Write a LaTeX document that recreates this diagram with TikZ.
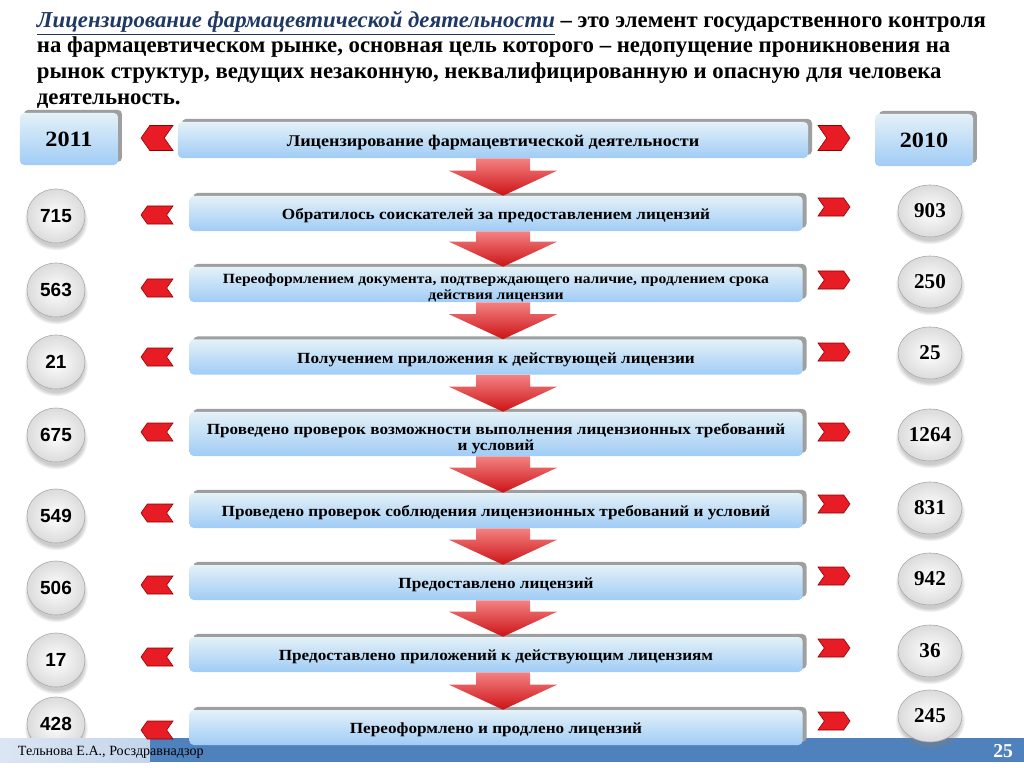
\documentclass[tikz,border=0pt]{standalone}
\usepackage{fontspec}
\setmainfont{Liberation Serif}
\newfontfamily\numsans{Liberation Sans}
\newfontfamily\boxfont[FakeStretch=1.11]{Liberation Serif}
\usepackage{tikz}
\usetikzlibrary{shapes.geometric,shapes.symbols,shadows,calc}

\definecolor{boxtop}{RGB}{228,241,247}
\definecolor{boxbot}{RGB}{160,204,246}
\definecolor{barblue}{RGB}{79,129,189}
\definecolor{barlight}{RGB}{196,213,235}
\definecolor{titleblue}{RGB}{31,56,100}
\definecolor{markred}{RGB}{232,28,36}
\definecolor{arrowtop}{RGB}{243,130,130}
\definecolor{arrowbot}{RGB}{205,18,22}

\begin{document}
\begin{tikzpicture}[x=0.025cm, y=-0.025cm,
    rowbox/.style={rectangle, rounded corners=3pt, top color=boxtop, bottom color=boxbot,
      general shadow={fill=gray!75, shadow xshift=2.8pt, shadow yshift=2.2pt},
      minimum width=15.325cm, minimum height=0.875cm, inner sep=1pt, align=center,
      text height=8.6pt, text depth=0pt,
      font=\boxfont\bfseries\fontsize{11}{11.4}\selectfont},
    tworow/.style={text height={}, text depth={}},
    yearbox/.style={rowbox, minimum width=2.45cm, minimum height=1.3cm, text height=11pt,
      font=\boxfont\bfseries\fontsize{15.5}{17}\selectfont},
    lball/.style={ellipse, draw=gray!70, inner color=white, outer color=gray!28,
      circular drop shadow={shadow xshift=0pt, shadow yshift=-3pt, opacity=.4},
      minimum width=1.45cm, minimum height=1.35cm, inner sep=0pt,
      font=\numsans\bfseries\fontsize{13.5}{15}\selectfont},
    rball/.style={lball, minimum width=1.6cm, minimum height=1.3cm,
      font=\bfseries\fontsize{15}{16}\selectfont},
    lmark/.style={signal, signal to=west, signal from=east, signal pointer angle=110,
      fill=markred, draw=red!55!black, minimum width=0.8cm, minimum height=0.45cm, inner sep=0pt},
    rmark/.style={lmark, signal to=east, signal from=west},
    downarrow/.style={top color=arrowtop, bottom color=arrowbot, draw=none}]

\useasboundingbox (0,0) rectangle (1024,768);

% title
\node[anchor=north west, align=left, font=\bfseries\fontsize{16.2}{18.2}\selectfont] (title) at (32,6)
  {{\color{titleblue}\itshape\underline{Лицензирование фармацевтической деятельности}} – это элемент государственного контроля\\
   на фармацевтическом рынке, основная цель которого – недопущение проникновения на\\
   рынок структур, ведущих незаконную, неквалифицированную и опасную для человека\\
   деятельность.};

% last 2011 value sits under the footer bar
\node[lball] (v8) at (56,724) {428};

% footer bar
\shade[left color=barlight!60!white, right color=barlight] (0,738) rectangle (150,762);
\fill[barblue] (150,738) rectangle (1024,762);
\node[anchor=west, font=\fontsize{10}{11}\selectfont] (author) at (13,752) {Тельнова Е.А., Росздравнадзор};
\node[anchor=east, text=white, font=\bfseries\fontsize{14}{16}\selectfont] (page) at (1018,751) {25};

% years
\node[yearbox] (y1) at (69,139) {2011};
\node[yearbox] (y2) at (924,140) {2010};

% main column
\node[rowbox, minimum width=15.75cm, minimum height=0.9cm, font=\boxfont\bfseries\fontsize{11.6}{12}\selectfont] (b0) at (493,140) {Лицензирование фармацевтической деятельности};
\node[rowbox] (b1) at (496,213.5) {Обратилось соискателей за предоставлением лицензий};
\node[rowbox, tworow, font=\boxfont\bfseries\fontsize{10}{11.4}\selectfont] (b2) at (496,284.5)
  {\raisebox{-5.5pt}[10pt][10pt]{\begin{tabular}{@{}c@{}}Переоформлением документа, подтверждающего наличие, продлением срока\\ действия лицензии\end{tabular}}};
\node[rowbox] (b3) at (496,357) {Получением приложения к действующей лицензии};
\node[rowbox, tworow, minimum height=1.1cm] (b4) at (496,434)
  {\raisebox{-6.5pt}[10pt][10pt]{\begin{tabular}{@{}c@{}}Проведено проверок возможности выполнения лицензионных требований\\ и условий\end{tabular}}};
\node[rowbox] (b5) at (496,510.5) {Проведено проверок соблюдения лицензионных требований и условий};
\node[rowbox] (b6) at (496,582.5) {Предоставлено лицензий};
\node[rowbox] (b7) at (496,654.5) {Предоставлено приложений к действующим лицензиям};
\node[rowbox] (b8) at (496,727.5) {Переоформлено и продлено лицензий};

% red arrows down
\coordinate (ax) at (503,0);
\foreach \a/\b in {b0/b1,b1/b2,b2/b3,b3/b4,b4/b5,b5/b6,b6/b7,b7/b8}
  \shade[downarrow] ($(\a.south -| ax)+(-27,0)$) -- ($(\b.north -| ax)+(-27,-25)$)
    -- ($(\b.north -| ax)+(-54,-25)$) -- (\b.north -| ax) -- ($(\b.north -| ax)+(54,-25)$)
    -- ($(\b.north -| ax)+(27,-25)$) -- ($(\a.south -| ax)+(27,0)$) -- cycle;

% chevrons
\node[lmark, minimum height=0.625cm] (l0) at (157,138) {};
\node[rmark, minimum height=0.625cm] (r0) at (834,138) {};
\node[lmark] (l1) at (157,215) {};
\node[lmark] (l2) at (157,288) {};
\node[lmark] (l3) at (157,357) {};
\node[lmark] (l4) at (157,432) {};
\node[lmark] (l5) at (157,513) {};
\node[lmark] (l6) at (157,585) {};
\node[lmark] (l7) at (157,657) {};
\node[lmark] (l8) at (157,730) {};
\node[rmark] (r1) at (834,207) {};
\node[rmark] (r2) at (834,280) {};
\node[rmark] (r3) at (834,352) {};
\node[rmark] (r4) at (834,432) {};
\node[rmark] (r5) at (834,504) {};
\node[rmark] (r6) at (834,576) {};
\node[rmark] (r7) at (834,648) {};
\node[rmark] (r8) at (834,721) {};

% 2011 values
\node[lball] (v1) at (56,216) {715};
\node[lball] (v2) at (56,290) {563};
\node[lball] (v3) at (56,362) {21};
\node[lball] (v4) at (56,435) {675};
\node[lball] (v5) at (56,516) {549};
\node[lball] (v6) at (56,588) {506};
\node[lball] (v7) at (56,660) {17};

% 2010 values
\node[rball] (w1) at (930,211) {903};
\node[rball] (w2) at (930,282) {250};
\node[rball] (w3) at (930,353) {25};
\node[rball] (w4) at (930,435) {1264};
\node[rball] (w5) at (930,508) {831};
\node[rball] (w6) at (930,579) {942};
\node[rball] (w7) at (930,651) {36};
\node[rball] (w8) at (930,716) {245};
\end{tikzpicture}
\end{document}
